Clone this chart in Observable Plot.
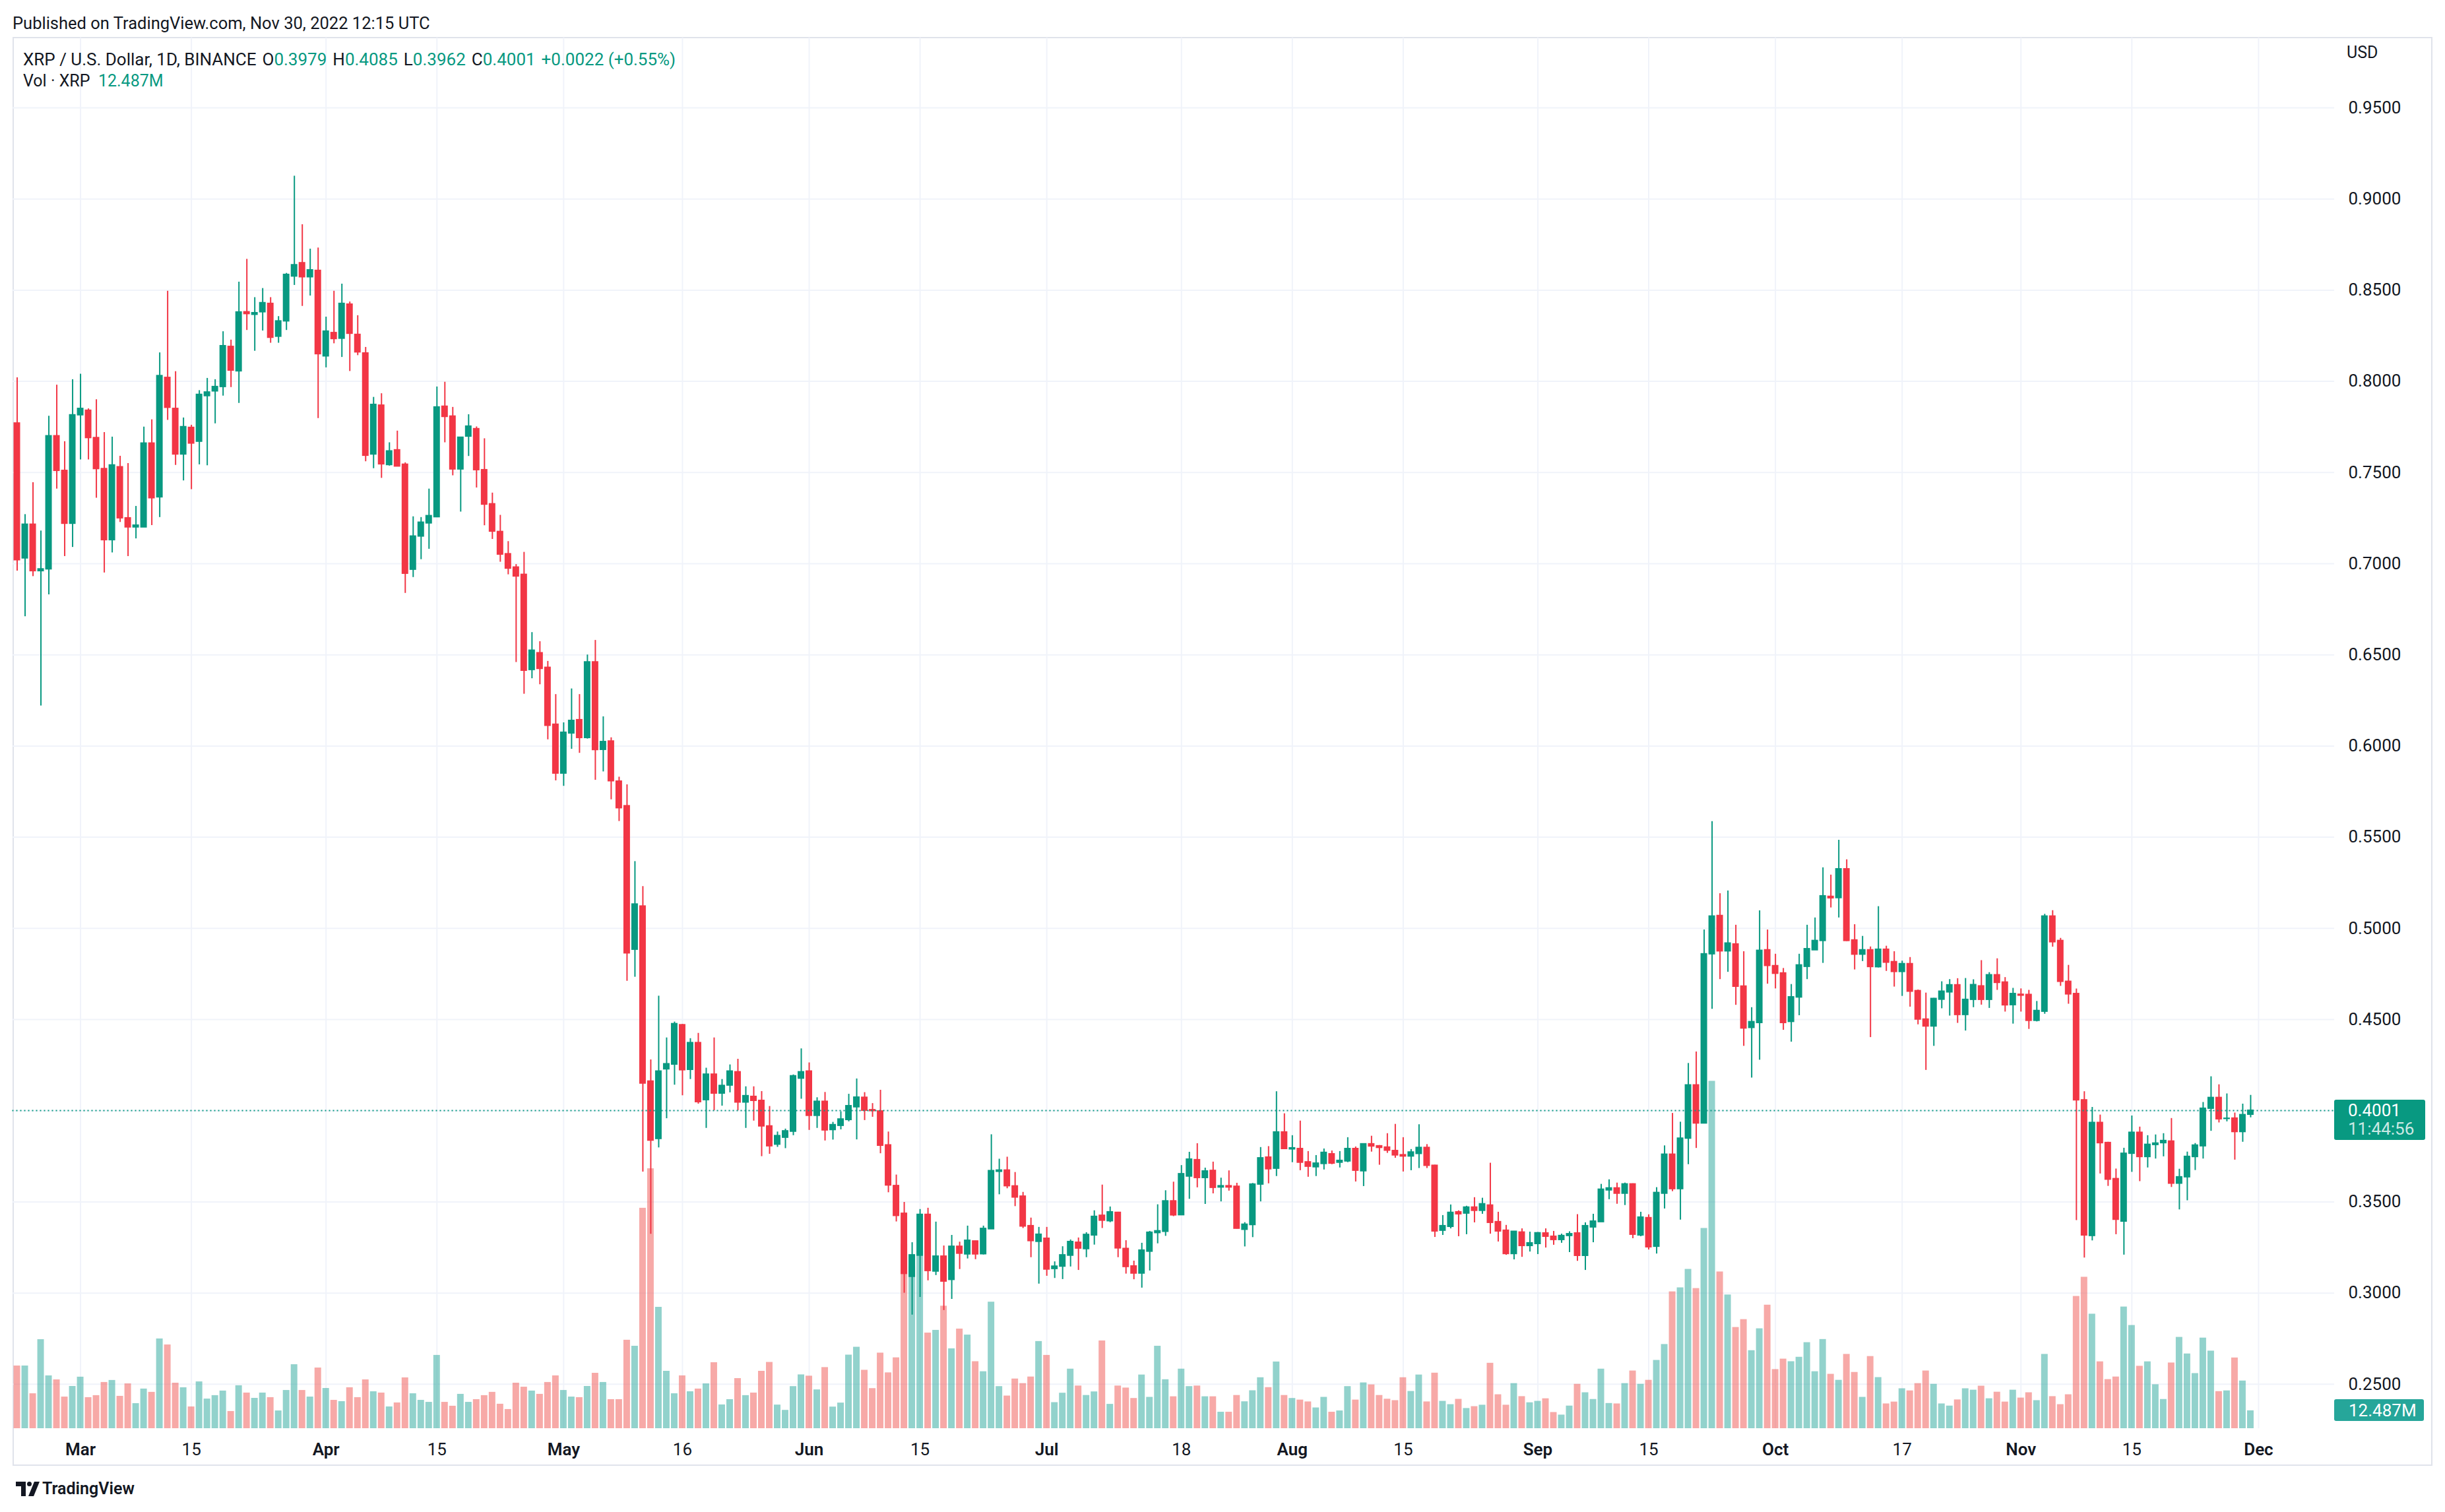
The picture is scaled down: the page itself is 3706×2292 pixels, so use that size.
<!DOCTYPE html>
<html><head><meta charset="utf-8">
<script src="https://cdn.jsdelivr.net/npm/d3@7"></script>
<script src="https://cdn.jsdelivr.net/npm/@observablehq/plot@0.6"></script>
<style>
html,body{margin:0;padding:0;background:#fff;}
body{width:3706px;height:2292px;position:relative;overflow:hidden;font-family:Roboto,"Noto Sans",sans-serif;color:#131722;}
.abs{position:absolute;white-space:nowrap;}
.g{color:#089981;}
.sp{margin-left:9px;}
svg{overflow:visible;}
</style></head><body>
<div class="abs" style="left:19px;top:56px;width:3664px;height:2162px;border:2px solid #e0e3eb;"></div>
<div id="layer1" class="abs" style="left:0;top:0"></div>
<div id="layer2" class="abs" style="left:0;top:0"></div>
<div id="layer3" class="abs" style="left:0;top:0"></div>
<div id="overlay"></div>
<script>
// ---------------- data ----------------
const firstDay = "2022-02-21";
const lastAxisDay = "2022-12-10";
const open = [
0.777,0.703,0.7215,0.696,0.697,0.770,0.751,0.722,
0.7815,0.784,0.769,0.752,0.713,0.753,0.725,0.720,0.720,0.766,0.7365,0.802,0.785,0.760,0.7746,0.767,0.792,0.7946,0.797,0.819,0.8056,0.838,0.8366,0.838,0.8426,0.8246,0.833,0.8576,0.8649,0.8572,0.8607,
0.8138,0.8266,0.8235,0.8422,0.8256,0.8154,0.760,0.7868,0.7542,0.7623,0.7544,0.6968,0.715,0.7222,0.7256,0.7862,0.7808,0.7518,0.7698,0.7739,0.7514,0.7327,0.7175,0.7053,0.698,0.694,0.6418,0.651,0.643,0.6118,
0.585,0.607,0.6143,0.6045,0.646,0.598,0.6026,0.5806,0.5671,0.4884,0.5121,0.4161,0.3846,0.4228,0.4254,0.447,0.4225,0.4372,0.4059,0.4199,0.4095,0.4139,0.4212,0.4046,0.4077,0.4055,0.3915,0.3815,0.3853,0.3886,0.4177,
0.4216,0.3973,0.405,0.3895,0.3918,0.395,0.402,0.4072,0.4004,0.3997,0.3811,0.3588,0.3436,0.309,0.3206,0.343,0.3119,0.3201,0.3073,0.3255,0.3213,0.3284,0.3214,0.3351,0.3666,0.3673,0.3586,0.353,0.3368,0.3282,
0.3299,0.3133,0.3146,0.3206,0.3277,0.3242,0.3317,0.3425,0.3395,0.3441,0.3243,0.3147,0.3108,0.3228,0.333,0.3337,0.3504,0.3428,0.364,0.373,0.3632,0.3671,0.358,0.3587,0.3584,0.3348,0.3374,0.3596,0.3744,0.3683,0.3882,
0.3789,0.3791,0.3718,0.3691,0.3709,0.3762,0.3716,0.3723,0.3791,0.3669,0.3817,0.3806,0.3799,0.378,0.3757,0.375,0.3764,0.3797,0.3699,0.3343,0.3364,0.3444,0.3437,0.347,0.3452,0.3481,0.339,0.3343,0.3215,0.3333,0.3259,
0.327,0.3328,0.331,0.3292,0.3314,0.3328,0.3205,0.3361,0.339,0.3564,0.3575,0.3546,0.3597,0.3317,0.3412,0.3255,0.3546,0.376,0.3571,0.3848,0.414,0.3931,0.4859,0.5069,0.4875,0.4913,0.4682,0.4455,0.4482,0.4881,
0.4794,0.4754,0.4488,0.4622,0.479,0.4881,0.4932,0.5174,0.5167,0.5325,0.4935,0.4857,0.4881,0.4788,0.4884,0.4816,0.4762,0.4805,0.4657,0.4501,0.4463,0.461,0.465,0.4689,0.4526,0.4609,0.4683,0.4609,0.4744,0.4704,0.458,
0.4637,0.4636,0.4494,0.4544,0.5066,0.4932,0.4708,0.4641,0.4058,0.3314,0.3934,0.3824,0.3626,0.3393,0.3765,0.388,0.3747,0.3813,0.3823,0.3832,0.3601,0.3636,0.3747,0.3806,0.4012,0.4071,0.3956,0.3958,0.3884,0.3979];
const high = [
0.802,0.727,0.7445,0.718,0.781,0.798,0.767,0.801,
0.804,0.785,0.790,0.772,0.7695,0.759,0.755,0.7315,0.775,0.779,0.8157,0.8495,0.8054,0.780,0.776,0.795,0.8017,0.801,0.8273,0.8227,0.8545,0.867,0.846,0.851,0.846,0.8356,0.8593,0.9126,0.886,0.8726,0.8732,
0.8353,0.8495,0.8534,0.8436,0.8361,0.8187,0.7913,0.7933,0.7664,0.7728,0.7554,0.7258,0.7254,0.741,0.797,0.7996,0.7858,0.7692,0.7818,0.7751,0.7686,0.7388,0.7266,0.7122,0.6996,0.7063,0.6623,0.6573,0.6465,0.6283,
0.6128,0.6314,0.6283,0.650,0.658,0.6161,0.6046,0.583,0.5788,0.5367,0.523,0.4279,0.4629,0.44,0.4487,0.4474,0.4396,0.4425,0.4234,0.44,0.4172,0.4252,0.4283,0.4132,0.4132,0.4106,0.4024,0.3884,0.39,0.4197,0.434,
0.4263,0.4072,0.4101,0.3937,0.3995,0.4091,0.4175,0.41,0.404,0.4113,0.3884,0.3648,0.3498,0.3277,0.3459,0.3466,0.339,0.3259,0.3317,0.328,0.3368,0.3286,0.3368,0.3869,0.3735,0.3746,0.3662,0.3553,0.3412,0.3361,
0.3361,0.3172,0.3255,0.3292,0.3303,0.3332,0.3452,0.3593,0.3473,0.3444,0.3288,0.3176,0.3274,0.3339,0.3485,0.3562,0.3609,0.37,0.3773,0.382,0.3686,0.3719,0.3631,0.3671,0.3603,0.3387,0.3602,0.3799,0.3804,0.4105,0.3984,
0.3864,0.3944,0.3777,0.3755,0.3791,0.378,0.3777,0.3853,0.3802,0.3817,0.3861,0.381,0.3875,0.3926,0.3853,0.3788,0.3924,0.3815,0.3702,0.3426,0.3484,0.3452,0.3477,0.3524,0.3521,0.3713,0.3444,0.3372,0.3339,0.3353,0.3335,
0.3333,0.3353,0.3339,0.3324,0.3337,0.3431,0.3386,0.3433,0.3597,0.3622,0.3604,0.3604,0.36,0.3444,0.343,0.3579,0.3808,0.3986,0.3938,0.426,0.4323,0.4992,0.5586,0.5191,0.5206,0.5018,0.4873,0.4566,0.5097,0.4992,
0.4859,0.4781,0.4693,0.4859,0.5018,0.5058,0.5333,0.5293,0.5484,0.5377,0.5021,0.4957,0.4899,0.512,0.4903,0.4873,0.4821,0.4841,0.4663,0.4646,0.4617,0.4708,0.472,0.4725,0.4726,0.4719,0.4824,0.4758,0.4834,0.4731,0.4672,
0.4669,0.4661,0.46,0.5078,0.5098,0.4946,0.4798,0.4668,0.4105,0.4019,0.3977,0.3828,0.3681,0.3795,0.3972,0.3911,0.3864,0.3868,0.3875,0.3958,0.368,0.3774,0.3821,0.4046,0.4187,0.4143,0.4093,0.3988,0.4037,0.4085];
const low = [
0.696,0.671,0.693,0.622,0.683,0.741,0.704,0.709,
0.757,0.757,0.736,0.695,0.706,0.7227,0.704,0.7137,0.720,0.721,0.7254,0.7787,0.754,0.7455,0.7407,0.7543,0.7538,0.7768,0.792,0.7967,0.788,0.828,0.8166,0.8277,0.821,0.821,0.828,0.8527,0.8412,0.8469,0.7797,
0.8075,0.8207,0.8132,0.8055,0.8142,0.756,0.7522,0.7469,0.7536,0.7532,0.6838,0.6925,0.7023,0.708,0.7256,0.7664,0.7483,0.7284,0.7589,0.7416,0.7209,0.7134,0.7009,0.694,0.6459,0.6285,0.637,0.6337,0.6035,0.581,
0.578,0.5983,0.5961,0.6039,0.5813,0.5859,0.5706,0.5587,0.4711,0.4733,0.3664,0.3323,0.3797,0.3957,0.4141,0.4083,0.4172,0.4037,0.3904,0.4001,0.4026,0.4099,0.4001,0.3904,0.3944,0.3749,0.3762,0.38,0.3793,0.3864,0.4064,
0.3893,0.3904,0.3835,0.384,0.3896,0.394,0.3841,0.3947,0.3965,0.3765,0.3551,0.3391,0.30,0.288,0.2977,0.3068,0.3097,0.2905,0.2966,0.313,0.3188,0.3184,0.321,0.3351,0.354,0.3573,0.3475,0.3355,0.3195,0.305,
0.3093,0.3081,0.3075,0.3144,0.3125,0.3195,0.3264,0.3355,0.3387,0.3195,0.3105,0.3074,0.3028,0.3122,0.3271,0.3312,0.342,0.3428,0.3515,0.3578,0.3487,0.3545,0.3501,0.356,0.3352,0.3254,0.3305,0.3501,0.36,0.364,0.3789,
0.3716,0.3672,0.3636,0.364,0.3676,0.3705,0.3687,0.3716,0.361,0.3585,0.3774,0.3702,0.3767,0.374,0.3665,0.3672,0.3684,0.3684,0.3306,0.3317,0.3353,0.331,0.3321,0.3386,0.3433,0.3324,0.3281,0.3208,0.3183,0.3197,0.3226,
0.3212,0.3248,0.3263,0.3274,0.3223,0.3175,0.3125,0.3277,0.339,0.3513,0.3488,0.3481,0.3299,0.331,0.3237,0.3215,0.3462,0.3557,0.3401,0.3705,0.3794,0.3931,0.4557,0.472,0.476,0.4579,0.4354,0.418,0.4278,0.4695,
0.4669,0.4442,0.4377,0.4522,0.472,0.4881,0.4809,0.5113,0.5058,0.4929,0.4773,0.4819,0.4402,0.4784,0.4765,0.4679,0.4628,0.4569,0.4472,0.4222,0.4354,0.456,0.452,0.448,0.4438,0.4566,0.458,0.4562,0.4661,0.4542,0.4476,
0.4542,0.4447,0.4488,0.453,0.4898,0.4683,0.4585,0.3398,0.3193,0.3287,0.3654,0.3586,0.3321,0.3209,0.3663,0.3612,0.3687,0.3736,0.3748,0.358,0.3457,0.3507,0.3673,0.3736,0.3888,0.3934,0.394,0.373,0.3828,0.3962];
const close = [
0.702,0.7215,0.696,0.697,0.770,0.751,0.722,0.7815,
0.785,0.769,0.752,0.713,0.754,0.725,0.720,0.721,0.766,0.736,0.803,0.7856,0.760,0.775,0.766,0.7927,0.794,0.797,0.8194,0.806,0.8379,0.837,0.8375,0.843,0.824,0.833,0.8585,0.8638,0.8572,0.861,0.815,
0.8274,0.8233,0.8426,0.8262,0.816,0.7593,0.7872,0.7546,0.7617,0.7534,0.6946,0.715,0.7226,0.7262,0.7858,0.7806,0.7518,0.7692,0.7753,0.7514,0.7325,0.7177,0.7051,0.6974,0.6931,0.6414,0.6524,0.6424,0.6112,0.585,
0.6074,0.6139,0.6045,0.646,0.5979,0.6023,0.5808,0.566,0.4864,0.5132,0.415,0.3837,0.4216,0.4256,0.4476,0.4223,0.4372,0.4048,0.4199,0.4095,0.4137,0.4216,0.4046,0.4081,0.4055,0.3915,0.3806,0.3862,0.3888,0.419,0.4212,
0.3973,0.405,0.3893,0.3922,0.3953,0.4026,0.4073,0.4001,0.3999,0.3809,0.3591,0.3424,0.3106,0.3208,0.343,0.3122,0.3201,0.3064,0.3255,0.3217,0.3288,0.3213,0.3353,0.367,0.3673,0.3587,0.3525,0.3366,0.3286,0.3321,
0.313,0.3146,0.3208,0.3281,0.3245,0.332,0.3419,0.3398,0.3444,0.3246,0.3144,0.3108,0.3234,0.3332,0.334,0.3504,0.3427,0.3653,0.3733,0.3632,0.3668,0.3578,0.3587,0.358,0.3354,0.3376,0.3596,0.374,0.368,0.3882,0.3791,
0.3795,0.3716,0.3694,0.3711,0.377,0.3711,0.3726,0.3791,0.3672,0.3817,0.3805,0.3797,0.3782,0.3756,0.375,0.3772,0.3797,0.3699,0.3339,0.3368,0.3441,0.3433,0.347,0.3452,0.3488,0.3386,0.3339,0.3215,0.3337,0.3259,0.3274,
0.3329,0.331,0.3292,0.3314,0.3324,0.3205,0.3368,0.3393,0.3568,0.3575,0.3546,0.3597,0.3321,0.3415,0.3252,0.355,0.376,0.3571,0.3848,0.414,0.3931,0.4859,0.5066,0.4875,0.4918,0.4681,0.4452,0.4487,0.4878,0.4795,
0.4752,0.4482,0.4623,0.4798,0.4887,0.4932,0.5177,0.5166,0.5325,0.4932,0.4857,0.4881,0.4789,0.4884,0.4813,0.4762,0.4805,0.4654,0.4501,0.4463,0.4614,0.4654,0.4689,0.4526,0.4609,0.469,0.4609,0.4744,0.4702,0.4579,0.4641,
0.4632,0.4494,0.4548,0.5066,0.4925,0.4708,0.4639,0.4058,0.3317,0.3934,0.3823,0.3623,0.3403,0.3765,0.388,0.3747,0.3814,0.3821,0.3835,0.3601,0.3636,0.3748,0.381,0.4012,0.4071,0.3954,0.3957,0.3884,0.3977,0.4001];
const volume = [
43.8,43.8,24.4,62.2,36.9,34.1,22.1,29.5,
36.0,21.7,23.1,32.3,33.7,22.6,31.3,17.5,27.7,25.4,62.7,58.5,31.8,28.6,15.2,32.7,20.7,23.1,26.3,12.0,30.0,24.9,21.2,24.9,21.7,12.4,26.7,44.7,26.7,22.1,42.4,
28.1,19.8,18.9,28.6,21.7,34.1,25.8,24.9,15.2,18.0,35.5,24.4,19.8,18.4,51.2,18.4,15.7,24.0,18.4,20.3,23.1,25.4,17.1,13.4,31.8,29.0,26.3,24.0,32.3,36.9,
26.7,22.1,21.7,29.5,38.7,32.3,20.3,20.3,61.8,57.6,154.0,181.6,84.8,40.1,24.4,36.9,25.8,27.7,31.3,46.1,16.6,20.3,35.0,23.1,24.9,40.1,46.3,16.5,12.8,29.4,37.6,
36.7,27.1,42.7,15.1,17.9,51.4,56.9,40.8,28.0,52.8,39.0,49.5,129.0,113.0,124.0,66.8,68.7,85.6,55.8,69.6,65.4,46.8,39.8,88.4,29.4,22.8,34.7,31.5,36.1,60.9,
51.2,18.2,24.8,41.6,29.8,23.2,25.7,61.3,17.0,29.8,28.4,21.1,37.5,21.9,57.6,34.2,22.3,41.6,29.4,29.8,22.3,22.3,11.5,11.5,23.2,18.8,26.5,35.6,28.7,46.6,23.2,
21.1,20.0,18.7,14.5,21.9,11.5,12.4,29.4,20.0,32.0,30.6,23.2,20.6,19.6,35.6,26.0,37.5,18.7,38.8,19.1,16.8,20.5,14.1,15.4,16.4,45.7,23.7,16.4,31.5,22.4,18.1,
19.1,20.9,11.3,9.5,15.8,31.0,25.1,20.4,41.6,17.6,17.3,31.5,40.3,31.0,33.8,47.7,58.8,95.6,98.4,111.3,97.9,139.9,242.7,109.5,93.4,70.7,76.2,54.5,69.8,86.3,
41.3,48.6,46.8,49.9,60.1,39.8,62.3,38.0,33.8,51.9,39.3,21.9,50.4,35.7,17.3,18.6,27.9,26.4,31.5,40.3,31.0,17.3,15.8,20.1,27.9,26.9,29.7,20.9,25.5,18.6,26.9,
21.4,25.1,19.6,51.9,22.4,16.8,23.7,92.4,105.8,80.0,46.7,34.3,36.1,85.0,72.1,43.6,46.7,30.7,20.4,45.9,63.8,52.2,38.5,63.3,54.2,25.9,26.4,49.4,33.3,12.487];
const priceTicks = [0.25,0.30,0.35,0.40,0.45,0.50,0.55,0.60,0.65,0.70,0.75,0.80,0.85,0.90,0.95];
const monthTicks = ["2022-03-01","2022-04-01","2022-05-01","2022-06-01","2022-07-01","2022-08-01","2022-09-01","2022-10-01","2022-11-01","2022-12-01"];
const monthLabels = ["Mar","Apr","May","Jun","Jul","Aug","Sep","Oct","Nov","Dec"];
const dayTicks = ["2022-03-15","2022-04-15","2022-05-16","2022-06-15","2022-07-18","2022-08-15","2022-09-15","2022-10-17","2022-11-15"];
const dayLabels = ["15","15","16","15","18","15","15","17","15"];
const lastPrice = 0.4001, lastVolume = 12.487;

// ---------------- build ----------------
const UP = "#089981", DOWN = "#F23645";
const fmtDay = d3.utcFormat("%Y-%m-%d");
const days = d3.utcDay.range(new Date(firstDay + "T00:00Z"), d3.utcDay.offset(new Date(lastAxisDay + "T00:00Z"), 1)).map(fmtDay);
const rows = close.map((c, i) => ({date: days[i], open: open[i], high: high[i], low: low[i], close: c, volume: volume[i], up: c >= open[i]}));
const labelOf = new Map([...monthTicks.map((d, i) => [d, monthLabels[i]]), ...dayTicks.map((d, i) => [d, dayLabels[i]])]);

const W = 3706, H = 2221;
const base = {
  width: W, height: H, marginLeft: 18.5, marginRight: 168, marginTop: 57, marginBottom: 56,
  x: {type: "band", domain: days, padding: 0.17, round: false, axis: null, label: null},
  style: {background: "transparent", fontFamily: "Roboto, sans-serif", fontSize: "26px", color: "#131722", overflow: "visible"}
};
const priceY = {domain: [0.2257, 0.98835], axis: null, label: null};

const grid = Plot.plot({...base, y: priceY, marks: [
  Plot.gridY(priceTicks, {stroke: "#f0f3fa", strokeOpacity: 1, strokeWidth: 2}),
  Plot.gridX([...monthTicks, ...dayTicks], {stroke: "#f0f3fa", strokeOpacity: 1, strokeWidth: 2})
]});
document.getElementById("layer1").append(grid);

const vol = Plot.plot({...base, y: {domain: [0, 971.6], axis: null, label: null}, marks: [
  Plot.barY(rows, {x: "date", y: "volume", fill: d => d.up ? "#26a69a" : "#ef5350", fillOpacity: 0.5})
]});
document.getElementById("layer2").append(vol);

const chart = Plot.plot({...base, y: priceY, marks: [
  Plot.ruleX(rows, {x: "date", y1: "low", y2: "high", stroke: d => d.up ? UP : DOWN, strokeWidth: 2}),
  Plot.barY(rows, {x: "date", y1: "open", y2: "close", fill: d => d.up ? UP : DOWN, insetTop: -1, insetBottom: -1}),
  Plot.ruleY([lastPrice], {stroke: UP, strokeWidth: 2, strokeDasharray: "2,4"}),
  Plot.axisY(priceTicks, {anchor: "right", label: null, tickSize: 0, tickPadding: 21, tickFormat: d3.format(".4f"), fontSize: 26, fill: "#131722"}),
  Plot.axisX(monthTicks, {anchor: "bottom", label: null, tickSize: 0, tickPadding: 22, tickFormat: d => labelOf.get(d), fontSize: 26, fontWeight: 600, fill: "#131722"}),
  Plot.axisX(dayTicks, {anchor: "bottom", label: null, tickSize: 0, tickPadding: 22, tickFormat: d => labelOf.get(d), fontSize: 26, fill: "#131722"})
]});
document.getElementById("layer3").append(chart);

// ---------------- overlays (text, label boxes) ----------------
const ov = document.getElementById("overlay");
function addText(html, x, yc, size, extra = "") {
  const d = document.createElement("div");
  d.className = "abs";
  d.style.cssText = `left:${x}px;top:${yc - size}px;line-height:${2 * size}px;font-size:${size}px;${extra}`;
  d.innerHTML = html;
  ov.append(d);
  return d;
}
addText("Published on TradingView.com, Nov 30, 2022 12:15 UTC", 19, 35, 25.5);
addText(`XRP / U.S. Dollar, 1D, BINANCE<span class="sp">O</span><span class="g">0.3979</span><span class="sp">H</span><span class="g">0.4085</span><span class="sp">L</span><span class="g">0.3962</span><span class="sp">C</span><span class="g">0.4001</span><span class="g sp">+0.0022 (+0.55%)</span>`, 35, 90, 26);
addText(`Vol · XRP&nbsp; <span class="g">12.487M</span>`, 35, 123, 25);
addText("USD", 3557, 80, 25);

const yP = chart.scale("y").apply(lastPrice);
const boxP = document.createElement("div");
boxP.className = "abs";
boxP.style.cssText = `left:3538px;top:${yP - 15.5}px;width:138px;height:61px;background:${UP};border-radius:3px;`;
ov.append(boxP);
addText("0.4001", 3559, yP + 0.5, 26, "color:#fff;");
addText("11:44:56", 3559, yP + 28.5, 26, "color:rgba(255,255,255,0.8);");

const yV = vol.scale("y").apply(lastVolume);
const boxV = document.createElement("div");
boxV.className = "abs";
boxV.style.cssText = `left:3538px;top:${yV - 16.5}px;width:136px;height:33px;background:#26a69a;border-radius:3px;`;
ov.append(boxV);
addText("12.487M", 3560, yV, 26, "color:#fff;");

// TradingView logo + text
const logo = document.createElementNS("http://www.w3.org/2000/svg", "svg");
logo.setAttribute("width", "36"); logo.setAttribute("height", "22");
logo.setAttribute("viewBox", "0 0 36 22");
logo.style.cssText = "position:absolute;left:24px;top:2246px;";
logo.innerHTML = `<path d="M0 0H15V22H8V7H0Z" fill="#131722"/><circle cx="20.5" cy="3.5" r="3.5" fill="#131722"/><path d="M28 0H36L27 22H19Z" fill="#131722"/>`;
ov.append(logo);
addText("TradingView", 64, 2257, 25, "font-weight:600;");
</script>
</body></html>
